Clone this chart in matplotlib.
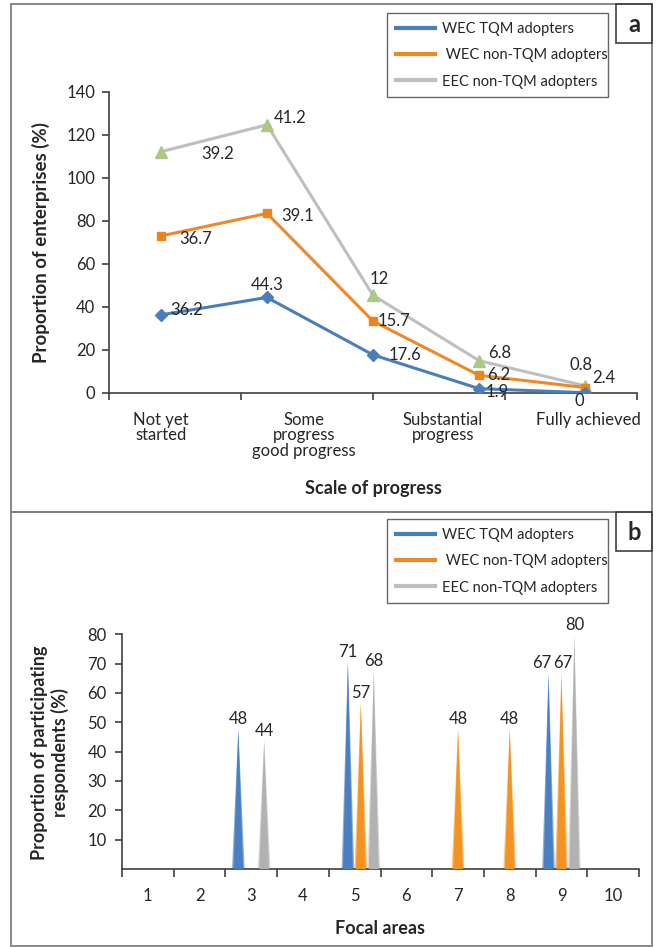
import matplotlib
matplotlib.use("Agg")
import matplotlib.pyplot as plt
from matplotlib.patches import Rectangle
from matplotlib.lines import Line2D
import numpy as np

plt.rcParams['font.family'] = ['Lato', 'DejaVu Sans']

# ---- data: panel a (stacked lines, labels show each series' own value)
stages = ['Not yet\nstarted', 'Some\nprogress\ngood progress', 'Substantial\nprogress', 'Fully achieved']
wec_tqm = [36.2, 44.3, 17.6, 1.9, 0]
wec_non = [36.7, 39.1, 15.7, 6.2, 2.4]
eec_non = [39.2, 41.2, 12, 6.8, 0.8]
series_names = ['WEC TQM adopters', ' WEC non-TQM adopters', 'EEC non-TQM adopters']

# ---- data: panel b (focal areas 1..10)
areas = list(range(1, 11))
b_wec_tqm = [0, 0, 48, 0, 71, 0, 0, 0, 67, 0]
b_wec_non = [0, 0, 0, 0, 57, 0, 48, 48, 67, 0]
b_eec_non = [0, 0, 44, 0, 68, 0, 0, 0, 80, 0]

blue = '#4a7ebb'
orange = '#ec8a2a'
gray = '#bfbfbf'
txt = '#262626'
axc = '#404040'

W, H = 659, 947
fig = plt.figure(figsize=(W / 100, H / 100), dpi=100)


def fx(px):
    return px / W


def fy(py):
    return 1 - py / H


def style_axes(ax):
    for s in ['top', 'right']:
        ax.spines[s].set_visible(False)
    for s in ['left', 'bottom']:
        ax.spines[s].set_color(axc)
        ax.spines[s].set_linewidth(1.2)
    ax.tick_params(axis='both', which='major', direction='out', length=5, width=1.2,
                   color=axc, labelsize=12, labelcolor=txt, pad=4)


def add_legend(top, bot):
    handles = [Line2D([], [], color=c, lw=3) for c in (blue, orange, gray)]
    leg = fig.legend(handles, series_names, loc='upper left',
                     bbox_to_anchor=(fx(387), fy(bot), fx(608) - fx(387), fy(top) - fy(bot)),
                     mode='expand', fontsize=10.5, frameon=True, fancybox=False,
                     edgecolor='#404040', handlelength=2.7, handletextpad=0.5,
                     labelspacing=0.85, borderaxespad=0, borderpad=0.6)
    leg.get_frame().set_linewidth(1.0)
    for t in leg.get_texts():
        t.set_color(txt)


# panel frames
for top, bot in [(4, 512), (512, 946)]:
    fig.patches.append(Rectangle((fx(11), fy(bot)), fx(652) - fx(11), fy(top) - fy(bot),
                                 transform=fig.transFigure, fill=False, ec='#7f7f7f', lw=1.3))
for top, bot, letter in [(4, 43, 'a'), (512, 551, 'b')]:
    fig.patches.append(Rectangle((fx(616), fy(bot)), fx(652) - fx(616), fy(top) - fy(bot),
                                 transform=fig.transFigure, fill=False, ec='#404040', lw=1.2))
    fig.text(fx(634), fy((top + bot) / 2 + 1), letter, ha='center', va='center',
             fontsize=17, fontweight='bold', color=txt)

# ---------------- panel a
ax = fig.add_axes([fx(109), fy(392.7), fx(637) - fx(109), fy(91.7) - fy(392.7)])
style_axes(ax)
x = np.arange(len(wec_tqm))
c1 = np.array(wec_tqm)
c2 = c1 + np.array(wec_non)
c3 = c2 + np.array(eec_non)
ax.plot(x, c3, color=gray, lw=2.2, marker='^', ms=8, mfc='#aec784', mec='#aec784', zorder=2)
ax.plot(x, c2, color=orange, lw=2.2, marker='s', ms=6, mfc='#e8861c', mec='#e8861c', zorder=3)
ax.plot(x, c1, color=blue, lw=2.2, marker='D', ms=6, mfc=blue, mec=blue, zorder=4)
ax.set_xlim(-0.49, 4.49)
ax.set_ylim(0, 140)
ax.set_yticks(np.arange(0, 141, 20))
ax.set_xticks(np.linspace(-0.49, 4.49, 5))
ax.set_xticklabels([])
ax.set_xticks([0, 1.35, 2.66, 4.03], minor=True)
ax.set_xticklabels(stages, minor=True, fontsize=12, color=txt, linespacing=0.95, va='top')
ax.tick_params(axis='x', which='minor', length=0, pad=14)
ax.tick_params(axis='y', pad=5)

# label offsets in pixels (dx, dy, ha)
offs_blue = [(9, 5, 'left'), (0, 12, 'center'), (16, 0, 'left'), (7, -3, 'left'), (-6, -8, 'center')]
offs_orange = [(18, -3, 'left'), (14, -3, 'left'), (5, 0, 'left'), (8, 0, 'left'), (7, 10, 'left')]
offs_gray = [(40, -2, 'left'), (7, 7, 'left'), (6, 16, 'center'), (9, 8, 'left'), (-4, 21, 'center')]
for vals, cum, offs in [(wec_tqm, c1, offs_blue), (wec_non, c2, offs_orange), (eec_non, c3, offs_gray)]:
    for i, v in enumerate(vals):
        dx, dy, ha = offs[i]
        ax.annotate(f'{v:g}', (x[i], cum[i]), xytext=(dx, dy), textcoords='offset pixels',
                    ha=ha, va='center', fontsize=12, color=txt, zorder=5)

ax.set_ylabel('Proportion of enterprises (%)', fontsize=13.5, fontweight='bold', color=txt, labelpad=12)
fig.text(fx(373), fy(488), 'Scale of progress', ha='center', va='center',
         fontsize=13, fontweight='bold', color=txt)
add_legend(13, 97)

# ---------------- panel b
bx = fig.add_axes([fx(122), fy(869), fx(639) - fx(122), fy(634.3) - fy(869)])
style_axes(bx)
bx.set_xlim(0.5, 10.5)
bx.set_ylim(0, 80)
bx.set_yticks(np.arange(10, 81, 10))
bx.set_xticks(np.arange(0.5, 10.6, 1))
bx.set_xticklabels([])
bx.set_xticks(areas, minor=True)
bx.set_xticklabels([str(a) for a in areas], minor=True, fontsize=12, color=txt)
bx.tick_params(axis='x', which='minor', length=0, pad=14)
bx.tick_params(axis='y', pad=6)
bx.tick_params(axis='x', which='major', length=6)

width = 0.245
shift = {5: 0.12}
label_dx = {(0, 9): -7, (1, 9): 1}   # (series, area) -> pixel nudge of the value label
light = {blue: '#8fb0d9', orange: '#f8c48a', gray: '#dadada'}
fills = {blue: '#4a80c2', orange: '#f39324', gray: '#b2b2b2'}
for k, (vals, c) in enumerate([(b_wec_tqm, blue), (b_wec_non, orange), (b_eec_non, gray)]):
    off = (k - 1) * 0.25
    for a, v in zip(areas, vals):
        if v == 0:
            continue
        xc = a + off + shift.get(a, 0)
        bx.fill([xc - width / 2, xc, xc + width / 2], [0, v, 0], color=light[c], lw=0, zorder=2)
        w2 = width * 0.78
        bx.fill([xc - w2 / 2, xc, xc + w2 / 2], [0, v * 0.985, 0], color=fills[c], lw=0, zorder=3)
        bx.annotate(f'{v}', (xc, v), xytext=(label_dx.get((k, a), 0), 1), textcoords='offset pixels',
                    ha='center', va='bottom', fontsize=12, color=txt, zorder=5)

fig.text(fx(50), fy(753), 'Proportion of participating\nrespondents (%)', rotation=90,
         ha='center', va='center', fontsize=13, fontweight='bold', color=txt, linespacing=1.15)
fig.text(fx(380), fy(928), 'Focal areas', ha='center', va='center',
         fontsize=13, fontweight='bold', color=txt)
add_legend(519, 606)

fig.savefig('out.png', dpi=100, facecolor='white')
